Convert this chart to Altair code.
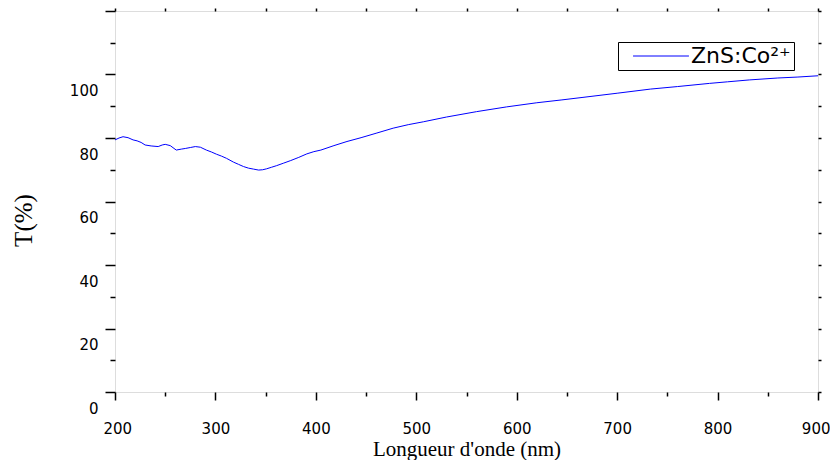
import altair as alt
import pandas as pd

wavelength = [200, 204, 208, 213, 218, 222, 226, 230, 236, 243, 247, 250, 255, 261, 266, 270,
              275, 280, 285, 291, 296, 301, 306, 311, 318, 323, 328, 333, 338, 343, 347, 351,
              356, 361, 368, 375, 383, 391, 398, 405, 418, 431, 445, 460, 477, 492, 507, 530,
              560, 590, 620, 645, 666, 700, 733, 760, 792, 810, 832, 860, 880, 900]
transmission = [79.4, 80.0, 80.4, 80.1, 79.4, 79.1, 78.6, 77.8, 77.5, 77.3, 77.8, 78.0, 77.6, 76.2, 76.5, 76.7,
                77.0, 77.3, 77.1, 76.2, 75.6, 74.9, 74.3, 73.6, 72.4, 71.7, 71.0, 70.5, 70.2, 69.9, 70.0, 70.3,
                70.8, 71.3, 72.1, 72.9, 73.9, 75.0, 75.7, 76.2, 77.6, 78.9, 80.1, 81.5, 83.1, 84.2, 85.1, 86.6,
                88.3, 89.8, 91.1, 92.0, 92.8, 94.1, 95.4, 96.2, 97.2, 97.7, 98.3, 98.9, 99.2, 99.6]
series_label = "ZnS:Co\u00b2\u207a"

x_major = [200, 300, 400, 500, 600, 700, 800, 900]
x_minor = [250, 350, 450, 550, 650, 750, 850]
x_top = [200, 250, 300, 350, 400, 450, 500, 550, 600, 650, 700, 750, 800, 850, 900]
y_major = [0, 20, 40, 60, 80, 100, 120]
y_minor = [10, 30, 50, 70, 90, 110]
y_right = [0, 10, 20, 30, 40, 50, 60, 70, 80, 90, 100, 110, 120]

df = pd.DataFrame({"wl": wavelength, "T": transmission, "series": series_label})

xs = alt.Scale(domain=[200, 900], nice=False)
ys = alt.Scale(domain=[0, 120], nice=False)

LABEL_FONT = "DejaVu Sans"
TITLE_FONT = "Liberation Serif"

common_axis = dict(domain=False, grid=False, tickColor="black", tickWidth=1.5)

main = alt.Chart(df).mark_line(strokeWidth=1).encode(
    x=alt.X("wl:Q", scale=xs, axis=alt.Axis(
        orient="bottom", values=x_major, tickSize=8, labelPadding=21,
        labelFlush=True, labelFlushOffset=12,
        labelFont=LABEL_FONT, labelFontSize=15, labelColor="black",
        title="Longueur d'onde (nm)", titleFont=TITLE_FONT, titleFontSize=21,
        titleFontWeight="normal", titleColor="black", titleY=63.5,
        titleBaseline="alphabetic", **common_axis)),
    y=alt.Y("T:Q", scale=ys, axis=alt.Axis(
        orient="left", values=y_major, tickSize=10, labelPadding=7, labelOffset=16,
        labelFlush=False,
        labelExpr="datum.value == 120 ? '' : datum.label",
        labelFont=LABEL_FONT, labelFontSize=15, labelColor="black",
        title="T(%)", titleFont=TITLE_FONT, titleFontSize=25, titleFontWeight="normal",
        titleColor="black", titleX=-92, titleY=209, titleBaseline="middle", **common_axis)),
    color=alt.Color("series:N", scale=alt.Scale(domain=[series_label], range=["#0000ff"]),
                    legend=alt.Legend(orient="none", legendX=503, legendY=31, title=None,
                                      symbolType="M-5,0H5", symbolSize=125, symbolStrokeWidth=1,
                                      symbolOffset=29,
                                      labelFont=LABEL_FONT, labelFontSize=22, labelColor="black",
                                      labelOffset=19, strokeColor="black", fillColor="white",
                                      padding=3)),
)

minor = alt.Chart(df).mark_line(opacity=0).encode(
    x=alt.X("wl:Q", scale=xs, axis=alt.Axis(orient="bottom", values=x_minor, tickSize=4,
                                           labels=False, title=None, **common_axis)),
    y=alt.Y("T:Q", scale=ys, axis=alt.Axis(orient="left", values=y_minor, tickSize=5,
                                          labels=False, title=None, **common_axis)),
)

opposite = alt.Chart(df).mark_line(opacity=0).encode(
    x=alt.X("wl:Q", scale=xs, axis=alt.Axis(orient="top", values=x_top, tickSize=3,
                                           labels=False, title=None, **common_axis)),
    y=alt.Y("T:Q", scale=ys, axis=alt.Axis(orient="right", values=y_right, tickSize=3,
                                          labels=False, title=None, **common_axis)),
)

chart = alt.layer(main, minor, opposite).resolve_axis(
    x="independent", y="independent"
).properties(
    width=703, height=381,
    autosize=alt.AutoSizeParams(type="none"),
    padding={"left": 107, "top": 3, "right": 12, "bottom": 68},
).configure_view(stroke="black", strokeWidth=2).configure(background="white")

chart.save("out.html", embed_options={"renderer": "svg", "actions": False})
